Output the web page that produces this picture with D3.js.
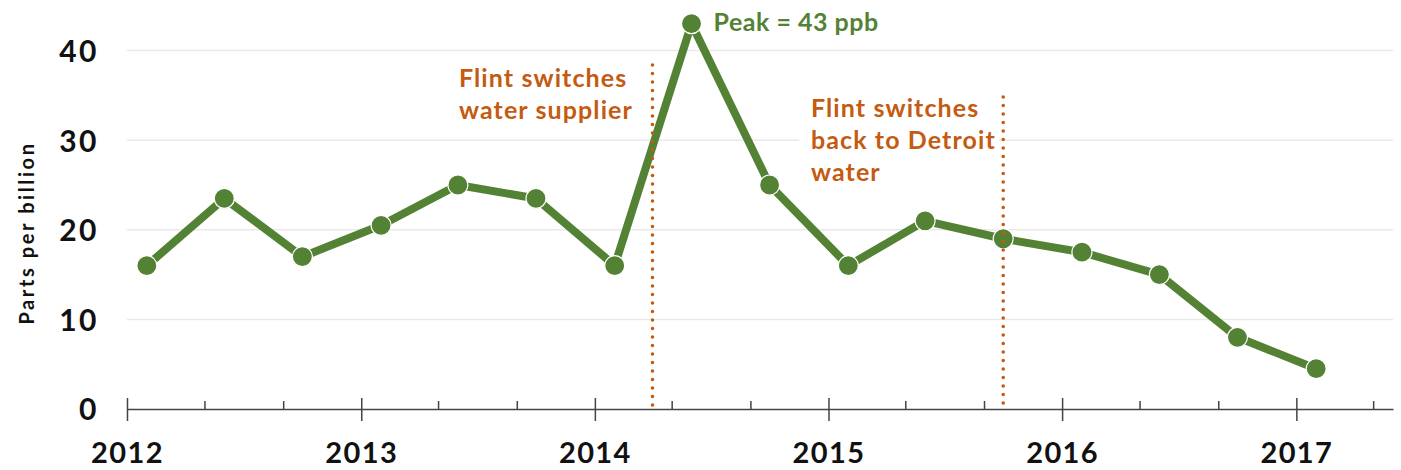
<!DOCTYPE html>
<html>
<head>
<meta charset="utf-8">
<script src="https://cdn.jsdelivr.net/npm/d3@7"></script>
<style>
  html, body { margin: 0; padding: 0; background: #fff; }
  svg { display: block; font-family: Lato, "Open Sans", sans-serif; }
</style>
</head>
<body>
<svg id="chart" width="1401" height="470"></svg>
<script>
// ---- data ----
const dates = ["2012-02-01","2012-06-01","2012-10-01","2013-02-01","2013-06-01","2013-10-01",
               "2014-02-01","2014-06-01","2014-10-01","2015-02-01","2015-06-01","2015-10-01",
               "2016-02-01","2016-06-01","2016-10-01","2017-02-01"];
const leadPpb = [16, 23.5, 17, 20.5, 25, 23.5, 16, 43, 25, 16, 21, 19, 17.5, 15, 8, 4.5];
const yTicks = [0, 10, 20, 30, 40];
const eventDates = ["2014-04-01", "2015-10-01"];
const eventLabels = [["Flint switches", "water supplier"], ["Flint switches", "back to Detroit", "water"]];
const peakLabel = "Peak = 43 ppb";
const yTitle = "Parts per billion";

const parse = d3.timeParse("%Y-%m-%d");
const data = dates.map((d, i) => ({ date: parse(d), value: leadPpb[i] }));

const green = "#548235", orange = "#C55A11";
const svg = d3.select("#chart");

const x = d3.scaleTime().domain([parse("2012-01-01"), parse("2017-06-01")]).range([127, 1393]);
const y = d3.scaleLinear().domain([0, 40]).range([409, 50.6]);

// gridlines
svg.append("g").selectAll("line").data(yTicks.filter(t => t > 0)).join("line")
  .attr("x1", 127).attr("x2", 1393)
  .attr("y1", d => y(d)).attr("y2", d => y(d))
  .attr("stroke", "#e9e9e9").attr("stroke-width", 1.5);

// y axis labels
const yAxis = svg.append("g").attr("transform", "translate(99,0)")
  .call(d3.axisLeft(y).tickValues(yTicks).tickSize(0).tickPadding(0));
yAxis.select(".domain").remove();
yAxis.selectAll("text").attr("font-family", "Lato").attr("font-weight", 700)
  .attr("font-size", 30).attr("letter-spacing", 2.5).attr("fill", "#111").attr("dy", "0.36em");

// y title
svg.append("text")
  .attr("transform", "translate(34,233) rotate(-90)")
  .attr("text-anchor", "middle")
  .attr("font-size", 20).attr("font-weight", 700).attr("fill", "#111")
  .attr("letter-spacing", 2.6)
  .text(yTitle);

// x axis with minor ticks
const xAxis = svg.append("g").attr("transform", "translate(0,409)")
  .call(d3.axisBottom(x).ticks(d3.timeMonth.every(4)).tickFormat("").tickSizeOuter(0));
xAxis.select(".domain").attr("stroke", "#444").attr("stroke-width", 1.5);
xAxis.selectAll(".tick line")
  .attr("stroke", "#444").attr("stroke-width", 1.5)
  .attr("y1", d => d.getMonth() === 0 ? -11 : -8)
  .attr("y2", d => d.getMonth() === 0 ? 12 : 0);

// year labels
const xLab = svg.append("g").attr("transform", "translate(0,409)")
  .call(d3.axisBottom(x).ticks(d3.timeYear.every(1)).tickFormat(d3.timeFormat("%Y")).tickSize(0));
xLab.select(".domain").remove();
xLab.selectAll("text").attr("font-family", "Lato").attr("font-weight", 700)
  .attr("font-size", 29).attr("letter-spacing", 1.4).attr("fill", "#111").attr("y", 54).attr("dy", 0);

// annotation backgrounds + text
const annX = [459, 811];
const annY = [87, 117];
eventLabels.forEach((lines, i) => {
  if (i === 1) {
    svg.append("rect").attr("x", annX[i] - 12).attr("y", annY[i] - 22)
      .attr("width", 200).attr("height", lines.length * 32 + 4).attr("fill", "#fff");
  }
  const t = svg.append("text").attr("x", annX[i]).attr("y", annY[i])
    .attr("font-size", 25).attr("font-weight", 700).attr("letter-spacing", 1.1).attr("fill", orange);
  lines.forEach((l, j) => t.append("tspan").attr("x", annX[i]).attr("dy", j === 0 ? 0 : 32).text(l));
});

// line
svg.append("path").datum(data)
  .attr("fill", "none").attr("stroke", green).attr("stroke-width", 8)
  .attr("stroke-linejoin", "round")
  .attr("d", d3.line().x(d => x(d.date)).y(d => y(d.value)));

// points
svg.append("g").selectAll("circle").data(data).join("circle")
  .attr("cx", d => x(d.date)).attr("cy", d => y(d.value)).attr("r", 10)
  .attr("fill", green).attr("stroke", "#fff").attr("stroke-width", 1.2);

// peak label
const peak = data[leadPpb.indexOf(d3.max(leadPpb))];
svg.append("text").attr("x", x(peak.date) + 22).attr("y", y(peak.value) + 7)
  .attr("font-size", 25).attr("font-weight", 700).attr("letter-spacing", 0.5).attr("fill", green).text(peakLabel);

// event dotted lines
const evTops = [65, 97];
svg.append("g").selectAll("line").data(eventDates).join("line")
  .attr("x1", d => x(parse(d))).attr("x2", d => x(parse(d)))
  .attr("y1", (d, i) => evTops[i]).attr("y2", 407)
  .attr("stroke", orange).attr("stroke-width", 3.6)
  .attr("stroke-linecap", "round").attr("stroke-dasharray", "0 8.5");
</script>
</body>
</html>
